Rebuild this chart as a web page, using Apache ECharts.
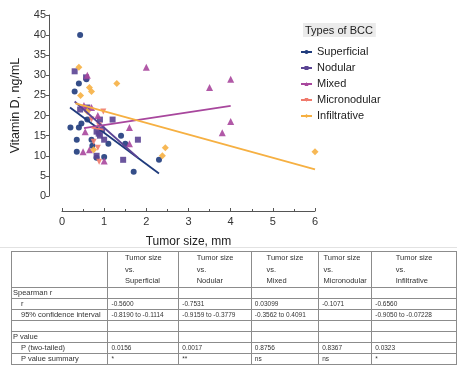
<!DOCTYPE html>
<html>
<head>
<meta charset="utf-8">
<script src="https://cdn.jsdelivr.net/npm/echarts@6/dist/echarts.min.js"></script>
<style>
  html, body { margin: 0; padding: 0; background: #fff; overflow: hidden; }
  #chart { position: absolute; left: 0; top: 0; width: 457px; height: 367px; }
  .sep { position: absolute; left: 0; top: 247px; width: 457px; height: 0; border-top: 1px solid #e2e2e2; }
  .stats { position: absolute; left: 11px; top: 251px; border-collapse: collapse; table-layout: fixed;
    font-family: "Liberation Sans", Arial, sans-serif; color: #333; }
  .stats td { border: 1px solid #8c8c8c; height: 10px; padding: 0 0 0 3px; font-size: 6.5px;
    line-height: 10px; white-space: nowrap; overflow: hidden; vertical-align: middle; }
  .stats td.lab { font-size: 7.5px; padding-left: 1px; }
  .stats td.sub { font-size: 7.5px; padding-left: 9px; }
  .stats tr.head td { height: 34px; text-align: center; padding: 0; }
  .stats tr.head span { display: inline-block; text-align: left; font-size: 7.5px; line-height: 11.5px; }
</style>
</head>
<body>
<div id="chart"></div>
<div class="sep"></div>
<table class="stats" id="stats"></table>
<script>
// scatter points per type of BCC: [tumor size mm, vitamin D ng/mL]
const superficial = [
  [0.43, 40], [0.40, 28], [0.30, 26], [0.58, 29], [0.20, 17], [0.40, 17], [0.46, 18],
  [0.35, 14], [0.35, 11], [0.60, 19], [0.70, 14], [0.72, 12.5], [1.10, 13], [1.00, 9.7],
  [1.40, 15], [1.50, 13], [1.70, 6], [2.30, 9], [0.82, 9.5]
];
const nodular = [
  [0.30, 31], [0.57, 29.5], [0.43, 21.5], [0.60, 22], [0.90, 19], [1.20, 19], [0.82, 16],
  [0.90, 15], [0.95, 16.5], [0.87, 15.5], [1.00, 14], [0.82, 10], [1.45, 9], [1.80, 14]
];
const mixed = [
  [2.00, 32], [0.60, 30], [0.52, 22.5], [0.70, 22], [0.85, 20], [0.55, 16], [0.50, 11],
  [0.65, 11.5], [1.60, 17], [1.60, 13], [1.00, 8.7], [3.50, 27], [4.00, 29], [4.00, 18.5], [3.80, 15.7]
];
const micronodular = [
  [0.98, 21], [0.70, 19], [0.88, 17.5], [0.75, 13.5], [0.85, 12], [0.88, 8.5]
];
const infiltrative = [
  [0.40, 32], [0.44, 25], [0.65, 27], [0.70, 26], [1.30, 28], [0.60, 21], [0.75, 11.5],
  [2.45, 12], [2.38, 10], [6.00, 11]
];
// regression line end points per type
const superficialFit = [[0.19, 22], [2.30, 5.6]];
const nodularFit = [[0.30, 23.5], [1.80, 9.5]];
const mixedFit = [[0.52, 16.9], [4.00, 22.4]];
const micronodularFit = [[0.70, 17], [0.98, 16.5]];
const infiltrativeFit = [[0.32, 23], [6.00, 6.6]];

const typeNames = ['Superficial', 'Nodular', 'Mixed', 'Micronodular', 'Infiltrative'];
const yTicks = [0, 45, 5];
const xTicks = [0, 6, 1];

// table content
const columnHeads = ['Superficial', 'Nodular', 'Mixed', 'Micronodular', 'Infiltrative'];
const spearmanR = ['-0.5600', '-0.7531', '0.03099', '-0.1071', '-0.6560'];
const confidence = ['-0.8190 to -0.1114', '-0.9159 to -0.3779', '-0.3562 to 0.4091', '', '-0.9050 to -0.07228'];
const pTwoTailed = ['0.0156', '0.0017', '0.8756', '0.8367', '0.0323'];
const pSummary = ['*', '**', 'ns', 'ns', '*'];

const colors = ['#1f3b7c', '#5b4494', '#a8479d', '#f07a6c', '#f6b042'];
const symbols = ['circle', 'rect', 'triangle', 'path://M0,0 L10,0 L5,9 Z', 'diamond'];
const symbolSizes = [6, 6, 7, 6, 7];
const points = [superficial, nodular, mixed, micronodular, infiltrative];
const fits = [superficialFit, nodularFit, mixedFit, micronodularFit, infiltrativeFit];

const font = '"Liberation Sans", Arial, sans-serif';
const chart = echarts.init(document.getElementById('chart'), null, { renderer: 'canvas' });

const series = [];
typeNames.forEach((name, i) => {
  series.push({
    name: name,
    type: 'line',
    data: fits[i],
    symbol: symbols[i],
    showSymbol: false,
    symbolSize: 5,
    lineStyle: { color: colors[i], width: 1.8 },
    itemStyle: { color: colors[i] },
    silent: true,
    z: 3
  });
});
typeNames.forEach((name, i) => {
  series.push({
    name: name,
    type: 'scatter',
    data: points[i],
    symbol: symbols[i],
    symbolSize: symbolSizes[i],
    itemStyle: { color: colors[i], opacity: 0.9 },
    z: 2
  });
});

chart.setOption({
  animation: false,
  textStyle: { fontFamily: font },
  grid: { left: 62, right: 142, top: 15, bottom: 171 },
  legend: {
    orient: 'vertical',
    left: 295,
    top: 41,
    itemWidth: 11,
    itemHeight: 5,
    itemGap: 4,
    data: typeNames,
    textStyle: { fontSize: 11, color: '#222', lineHeight: 12, fontFamily: font }
  },
  graphic: [{
    type: 'text',
    left: 303,
    top: 23,
    style: {
      text: 'Types of BCC',
      font: '11px ' + font,
      fill: '#222',
      backgroundColor: '#ebebeb',
      padding: [2, 3, 1, 2]
    }
  }],
  xAxis: {
    type: 'value',
    min: xTicks[0],
    max: xTicks[1],
    interval: xTicks[2],
    offset: 15,
    name: 'Tumor size, mm',
    nameLocation: 'middle',
    nameGap: 25,
    nameTextStyle: { fontSize: 12, color: '#222' },
    axisLine: { show: true, onZero: false, lineStyle: { color: '#555', width: 1 } },
    axisTick: { show: true, inside: true, length: 3, lineStyle: { color: '#555' } },
    minorTick: { show: true, splitNumber: 2, length: 2, lineStyle: { color: '#555' } },
    axisLabel: { fontSize: 11, color: '#333', margin: 5 },
    splitLine: { show: false }
  },
  yAxis: {
    type: 'value',
    min: yTicks[0],
    max: yTicks[1],
    interval: yTicks[2],
    offset: 13,
    name: 'Vitamin D, ng/mL',
    nameLocation: 'middle',
    nameGap: 27,
    nameTextStyle: { fontSize: 12.5, color: '#222' },
    axisLine: { show: true, onZero: false, lineStyle: { color: '#555', width: 1 } },
    axisTick: { show: true, length: 3, lineStyle: { color: '#555' } },
    axisLabel: { fontSize: 11, color: '#333', margin: 3 },
    splitLine: { show: false }
  },
  series: series
});

// statistics table under the chart
const widths = [98, 74, 76, 70, 55, 90];
const tbl = document.getElementById('stats');
let html = '<colgroup>' + widths.map(w => '<col style="width:' + w + 'px">').join('') + '</colgroup>';
html += '<tr class="head"><td></td>' + columnHeads.map(h =>
  '<td><span>Tumor size<br>vs.<br>' + h + '</span></td>').join('') + '</tr>';
const row = (label, cls, vals) => '<tr><td class="' + cls + '">' + label + '</td>' +
  vals.map(v => '<td>' + v + '</td>').join('') + '</tr>';
const blank = ['', '', '', '', ''];
html += row('Spearman r', 'lab', blank);
html += row('r', 'sub', spearmanR);
html += row('95% confidence interval', 'sub', confidence);
html += row('', 'lab', blank);
html += row('P value', 'lab', blank);
html += row('P (two-tailed)', 'sub', pTwoTailed);
html += row('P value summary', 'sub', pSummary);
tbl.innerHTML = html;
</script>
</body>
</html>
